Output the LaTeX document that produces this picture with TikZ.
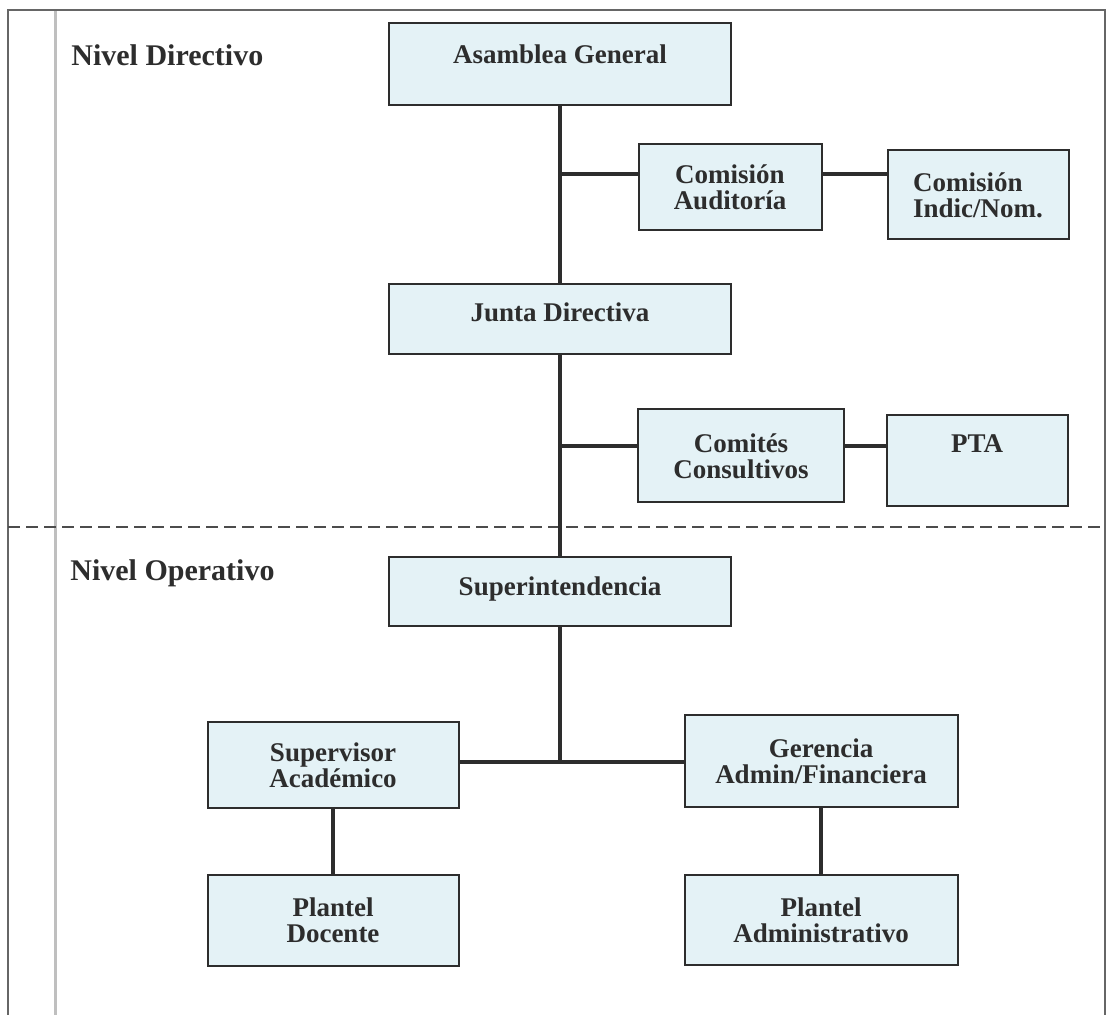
\documentclass[tikz,border=0pt]{standalone}
\usepackage{fontspec}
\setmainfont{Liberation Serif}
\definecolor{boxfill}{RGB}{228,242,246}
\definecolor{ink}{RGB}{45,45,45}
\tikzset{
  unit/.style={draw=ink,line width=1pt,fill=boxfill,text=ink,align=center,
    inner sep=0pt,font=\bfseries\fontsize{13.5}{13}\selectfont},
  level/.style={anchor=base west,inner sep=0pt,text=ink,
    font=\bfseries\fontsize{15}{15}\selectfont},
  link/.style={draw=ink,line width=2pt},
  border/.style={draw=black!60,line width=0.8pt},
}

\begin{document}
\begin{tikzpicture}[x=0.5pt,y=-0.5pt]
\useasboundingbox (0,0) rectangle (1109,1015);

% frame of the page
\draw [black!25,line width=1.5pt] (55,10) -- (55,1015);
\draw [border] (8,1015) -- (8,10) -- (1105,10) -- (1105,1015);
\draw [draw=black!70,line width=0.8pt,dash pattern=on 6pt off 3pt] (8,527) -- (1105,527);

\node [level] (dir) at (71,66) {Nivel Directivo};
\node [level] (oper) at (70,581) {Nivel Operativo};

% directive level
\node [unit,minimum width=171pt,minimum height=41pt,text depth=10pt] (asamblea) at (560,64) {Asamblea General};
\node [unit,minimum width=91.5pt,minimum height=43pt] (auditoria) at (730,187) {Comisión\\Auditoría};
\node [unit,minimum width=90.5pt,minimum height=44.5pt,align=left] (indic) at (978,195) {Comisión\\Indic/Nom.};
\node [unit,minimum width=171pt,minimum height=35pt,text depth=7pt] (junta) at (560,319) {Junta Directiva};
\node [unit,minimum width=103pt,minimum height=46.5pt] (consult) at (741,456) {Comités\\Consultivos};
\node [unit,minimum width=90.5pt,minimum height=45.5pt,text depth=17pt] (pta) at (977,461) {PTA};

% operative level
\node [unit,minimum width=171pt,minimum height=34.5pt,text depth=6pt] (superint) at (560,592) {Superintendencia};
\node [unit,minimum width=125.5pt,minimum height=43pt] (superv) at (333,765) {Supervisor\\Académico};
\node [unit,minimum width=136.5pt,minimum height=45.5pt] (gerencia) at (821,761) {Gerencia\\Admin/Financiera};
\node [unit,minimum width=125.5pt,minimum height=45.5pt] (docente) at (333,920) {Plantel\\Docente};
\node [unit,minimum width=136.5pt,minimum height=45pt] (administ) at (821,920) {Plantel\\Administrativo};

\coordinate (jA) at (560,174);
\coordinate (jC) at (560,446);
\coordinate (jS) at (560,762);

\draw [link] (asamblea) -- (junta);
\draw [link] (junta) -- (superint);
\draw [link] (jA) -- (jA -| auditoria.west);
\draw [link] (jA -| auditoria.east) -- (jA -| indic.west);
\draw [link] (jC) -- (jC -| consult.west);
\draw [link] (jC -| consult.east) -- (jC -| pta.west);
\draw [link] (superint) -- (jS);
\draw [link] (jS -| superv.east) -- (jS -| gerencia.west);
\draw [link] (superv) -- (docente);
\draw [link] (gerencia) -- (administ);
\end{tikzpicture}
\end{document}
